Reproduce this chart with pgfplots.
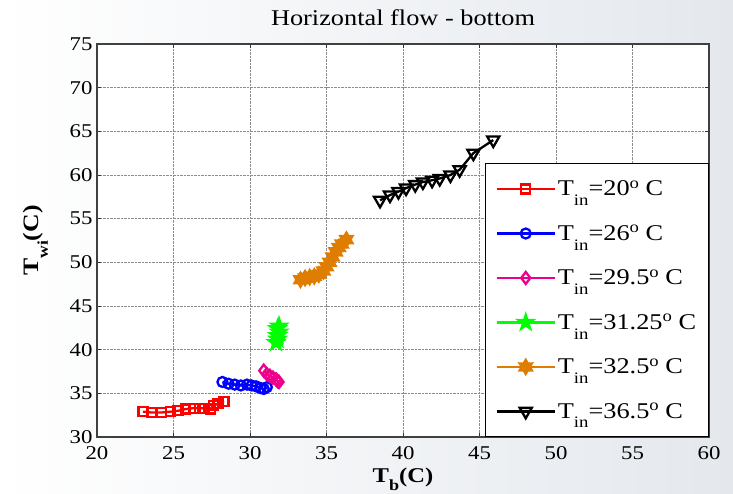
\documentclass[border=0pt]{standalone}
\usepackage{fontspec}
\setmainfont{Liberation Serif}[FakeStretch=1.17]
\usepackage{pgfplots}
\pgfplotsset{compat=1.18}
\usetikzlibrary{plotmarks}

\definecolor{morange}{RGB}{222,125,0}
\definecolor{bgright}{RGB}{228,232,237}

\newcommand\lsub[1]{\raisebox{-0.44em}{\fontsize{16}{16}\selectfont #1}}
\newcommand\lsup[1]{\raisebox{0.33em}{\fontsize{16}{16}\selectfont #1}}
\newcommand\lab[1]{T\lsub{in}=#1\lsup{o} C}

\pgfdeclareplotmark{pstar}{%
 \pgfpathmoveto{\pgfpointpolar{90}{\pgfplotmarksize}}%
 \pgfpathlineto{\pgfpointpolar{126}{0.382\pgfplotmarksize}}%
 \pgfpathlineto{\pgfpointpolar{162}{\pgfplotmarksize}}%
 \pgfpathlineto{\pgfpointpolar{198}{0.382\pgfplotmarksize}}%
 \pgfpathlineto{\pgfpointpolar{234}{\pgfplotmarksize}}%
 \pgfpathlineto{\pgfpointpolar{270}{0.382\pgfplotmarksize}}%
 \pgfpathlineto{\pgfpointpolar{306}{\pgfplotmarksize}}%
 \pgfpathlineto{\pgfpointpolar{342}{0.382\pgfplotmarksize}}%
 \pgfpathlineto{\pgfpointpolar{18}{\pgfplotmarksize}}%
 \pgfpathlineto{\pgfpointpolar{54}{0.382\pgfplotmarksize}}%
 \pgfpathclose\pgfusepathqfillstroke}

\pgfdeclareplotmark{hstar}{%
 \pgfpathmoveto{\pgfpointpolar{90}{\pgfplotmarksize}}%
 \pgfpathlineto{\pgfpointpolar{120}{0.577\pgfplotmarksize}}%
 \pgfpathlineto{\pgfpointpolar{150}{\pgfplotmarksize}}%
 \pgfpathlineto{\pgfpointpolar{180}{0.577\pgfplotmarksize}}%
 \pgfpathlineto{\pgfpointpolar{210}{\pgfplotmarksize}}%
 \pgfpathlineto{\pgfpointpolar{240}{0.577\pgfplotmarksize}}%
 \pgfpathlineto{\pgfpointpolar{270}{\pgfplotmarksize}}%
 \pgfpathlineto{\pgfpointpolar{300}{0.577\pgfplotmarksize}}%
 \pgfpathlineto{\pgfpointpolar{330}{\pgfplotmarksize}}%
 \pgfpathlineto{\pgfpointpolar{0}{0.577\pgfplotmarksize}}%
 \pgfpathlineto{\pgfpointpolar{30}{\pgfplotmarksize}}%
 \pgfpathlineto{\pgfpointpolar{60}{0.577\pgfplotmarksize}}%
 \pgfpathclose\pgfusepathqfillstroke}

\begin{document}
\begin{tikzpicture}
\useasboundingbox (-97pt,-57pt) rectangle (636pt,437pt);
\shade[left color=white, right color=bgright] (-97pt,-57pt) rectangle (636pt,437pt);
\begin{axis}[
  at={(0,0)}, anchor=south west,
  scale only axis,
  width=612pt, height=393pt,
  xmin=20, xmax=60, ymin=30, ymax=75,
  xtick={20,25,...,60}, ytick={30,35,...,75},
  axis background/.style={fill=white},
  axis line style={line width=1.2pt, black!75},
  tick style={line width=0.6pt, black!80},
  major tick length=4pt,
  tick align=inside,
  grid=major,
  grid style={densely dotted, black!45, line width=0.6pt},
  /pgf/number format/assume math mode=true,
  tick label style={font=\fontsize{19.5}{20}\selectfont},
  xticklabel style={yshift=-6pt},
  yticklabel style={xshift=-1pt},
  title={Horizontal flow - bottom},
  title style={font=\fontsize{22.5}{24}\selectfont, at={(axis description cs:0.5,1.052)}, anchor=center},
  xlabel={\textbf{T\raisebox{-0.36em}{\fontsize{15.5}{15}\selectfont\bfseries b}(C)}},
  ylabel={\textbf{T\raisebox{-0.42em}{\fontsize{15}{15}\selectfont\bfseries wi}(C)}},
  xlabel style={font=\fontsize{21}{22}\selectfont, at={(axis description cs:0.5,-0.107)}, anchor=center},
  ylabel style={font=\fontsize{22}{24}\selectfont, at={(axis description cs:-0.1,0.5)}, anchor=center},
  legend style={at={(1,0)}, anchor=south east, font=\fontsize{22.5}{24}\selectfont,
    draw=black, line width=0.8pt, fill=white, inner xsep=10.5pt, inner ysep=15pt, row sep=24pt,
    cells={anchor=west}},
  legend cell align=left,
  legend image code/.code={%
    \draw[mark repeat=2,mark phase=2,#1] plot coordinates {(0pt,0pt) (29pt,0pt) (58pt,0pt)};},
]
\addplot[red, line width=2.3pt, mark=square, mark size=4.5pt] coordinates {
(23.0,32.9) (23.6,32.8) (24.2,32.8) (24.8,32.9) (25.3,33.0) (25.8,33.2) (26.3,33.3)
(26.7,33.3) (27.0,33.3) (27.4,33.2) (27.6,33.6) (27.9,33.8) (28.3,34.1)};
\addlegendentry{\lab{20}}
\addplot[blue, line width=2.3pt, mark=o, mark size=5pt] coordinates {
(28.2,36.3) (28.6,36.1) (29.0,36.0) (29.4,35.9) (29.8,36.0) (30.1,35.9) (30.4,35.8)
(30.7,35.6) (30.9,35.5) (31.1,35.7)};
\addlegendentry{\lab{26}}
\addplot[magenta, line width=2.3pt, mark=diamond, mark size=6pt] coordinates {
(30.9,37.6) (31.1,37.2) (31.3,37.0) (31.5,36.8) (31.7,36.6) (31.8,36.4) (31.9,36.3)};
\addlegendentry{\lab{29.5}}
\addplot[green, line width=2.3pt, mark=pstar, mark size=7.5pt, mark options={fill=green}] coordinates {
(31.7,40.8) (31.8,41.2) (31.8,41.6) (31.9,42.0) (31.8,42.4) (31.9,42.7)};
\addlegendentry{\lab{31.25}}
\addplot[morange, line width=2.3pt, mark=hstar, mark size=7pt, mark options={fill=morange}] coordinates {
(33.3,48.0) (33.6,48.2) (33.9,48.3) (34.2,48.4) (34.5,48.6) (34.8,49.0) (35.0,49.5)
(35.2,50.0) (35.4,50.6) (35.6,51.2) (35.8,51.7) (36.0,52.1) (36.3,52.6)};
\addlegendentry{\lab{32.5}}
\addplot[black, line width=2.3pt, mark=triangle, mark size=7pt, mark options={rotate=180}] coordinates {
(38.5,57.1) (39.15,57.7) (39.7,58.1) (40.2,58.5) (40.8,58.9) (41.3,59.2) (41.9,59.4)
(42.4,59.6) (43.1,60.0) (43.7,60.6) (44.6,62.5) (45.9,64.0)};
\addlegendentry{\lab{36.5}}
\end{axis}
\end{tikzpicture}
\end{document}
